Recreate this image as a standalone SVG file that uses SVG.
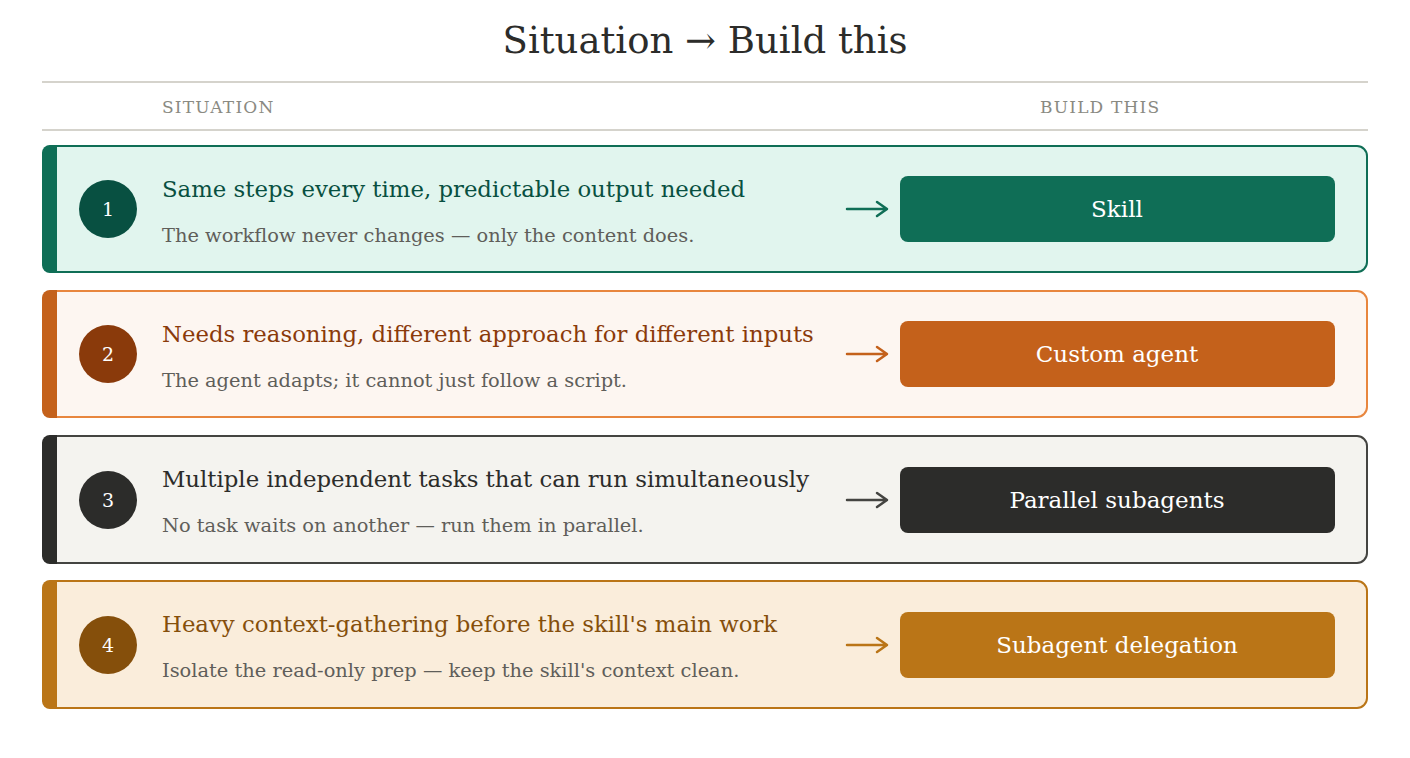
<svg xmlns="http://www.w3.org/2000/svg" width="1410" height="758" viewBox="0 0 1410 758">
<defs>
<style>
text{font-family:"DejaVu Serif","Liberation Serif",serif;}
.title{font-size:37px;fill:#2c2c2a;text-anchor:middle;}
.hdr{font-size:17px;fill:#8a8a82;letter-spacing:1.2px;}
.rule{stroke:#d5d3cc;stroke-width:2;}
.h{font-size:22.8px;}
.s{font-size:19.4px;fill:#5f5e5a;}
.num{font-size:19px;fill:#ffffff;text-anchor:middle;}
.btn{font-size:23px;fill:#ffffff;text-anchor:middle;}
.arr{fill:none;stroke-width:2.5;stroke-linecap:round;stroke-linejoin:round;}
</style>
</defs>
<rect width="1410" height="758" fill="#ffffff"/>
<text class="title" x="705" y="53">Situation → Build this</text>
<line class="rule" x1="42" y1="82" x2="1368" y2="82"/>
<text class="hdr" x="162" y="113">SITUATION</text>
<text class="hdr" x="1040" y="113">BUILD THIS</text>
<line class="rule" x1="42" y1="130" x2="1368" y2="130"/>

<g id="row1">
<rect x="43" y="146" width="1324" height="126" rx="10" fill="#e1f5ee" stroke="#0f6e56" stroke-width="2"/>
<path d="M57,145 H50 A8,8 0 0 0 42,153 V265 A8,8 0 0 0 50,273 H57 Z" fill="#0f6e56"/>
<circle cx="108" cy="209" r="29" fill="#085041"/>
<text class="num" x="108" y="216">1</text>
<text class="h" x="162" y="197" fill="#085041">Same steps every time, predictable output needed</text>
<text class="s" x="162" y="242">The workflow never changes — only the content does.</text>
<rect x="900" y="176" width="435" height="66" rx="8" fill="#0f6e56"/>
<text class="btn" x="1117" y="217">Skill</text>
</g>

<g id="row2">
<rect x="43" y="291" width="1324" height="126" rx="10" fill="#fdf6f1" stroke="#e8863e" stroke-width="2"/>
<path d="M57,290 H50 A8,8 0 0 0 42,298 V410 A8,8 0 0 0 50,418 H57 Z" fill="#c4611b"/>
<circle cx="108" cy="354" r="29" fill="#8a3a0b"/>
<text class="num" x="108" y="361">2</text>
<text class="h" x="162" y="342" fill="#8a3a0b">Needs reasoning, different approach for different inputs</text>
<text class="s" x="162" y="387">The agent adapts; it cannot just follow a script.</text>
<rect x="900" y="321" width="435" height="66" rx="8" fill="#c4611b"/>
<text class="btn" x="1117" y="362">Custom agent</text>
</g>

<g id="row3">
<rect x="43" y="436" width="1324" height="127" rx="10" fill="#f4f3ef" stroke="#444441" stroke-width="2"/>
<path d="M57,435 H50 A8,8 0 0 0 42,443 V556 A8,8 0 0 0 50,564 H57 Z" fill="#2c2c2a"/>
<circle cx="108" cy="500" r="29" fill="#2c2c2a"/>
<text class="num" x="108" y="507">3</text>
<text class="h" x="162" y="487" fill="#2c2c2a">Multiple independent tasks that can run simultaneously</text>
<text class="s" x="162" y="532">No task waits on another — run them in parallel.</text>
<rect x="900" y="467" width="435" height="66" rx="8" fill="#2c2c2a"/>
<text class="btn" x="1117" y="508">Parallel subagents</text>
</g>

<g id="row4">
<rect x="43" y="581" width="1324" height="127" rx="10" fill="#faeddb" stroke="#ba7517" stroke-width="2"/>
<path d="M57,580 H50 A8,8 0 0 0 42,588 V701 A8,8 0 0 0 50,709 H57 Z" fill="#ba7517"/>
<circle cx="108" cy="645" r="29" fill="#854f0b"/>
<text class="num" x="108" y="652">4</text>
<text class="h" x="162" y="632" fill="#854f0b">Heavy context-gathering before the skill's main work</text>
<text class="s" x="162" y="677">Isolate the read-only prep — keep the skill's context clean.</text>
<rect x="900" y="612" width="435" height="66" rx="8" fill="#ba7517"/>
<text class="btn" x="1117" y="653">Subagent delegation</text>
</g>

<g id="connectors">
<path class="arr" d="M847,209 H886 M877,202 L887,209 L877,216" stroke="#0f6e56"/>
<path class="arr" d="M847,354 H886 M877,347 L887,354 L877,361" stroke="#c4611b"/>
<path class="arr" d="M847,500 H886 M877,493 L887,500 L877,507" stroke="#444441"/>
<path class="arr" d="M847,645 H886 M877,638 L887,645 L877,652" stroke="#ba7517"/>
</g>
</svg>
